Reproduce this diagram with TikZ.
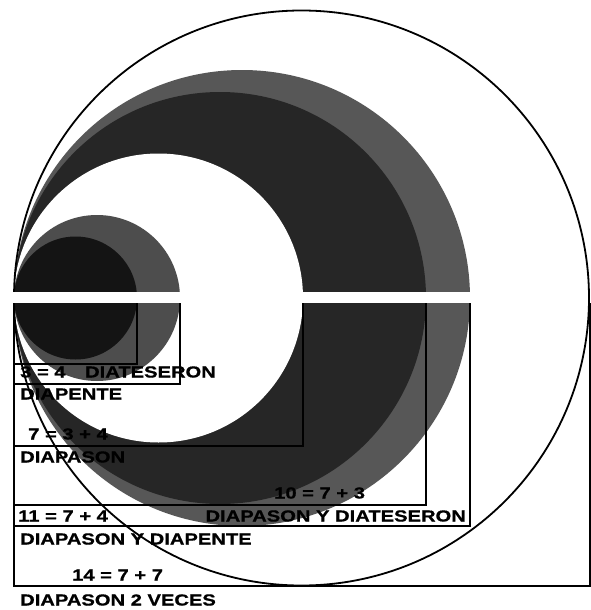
\documentclass[tikz,border=0pt]{standalone}
\usepackage{fontspec}
\newfontfamily\lab[FakeStretch=1.26,FakeBold=0.8]{Liberation Sans}
\definecolor{bgray}{HTML}{575757}
\definecolor{bdark}{HTML}{262626}
\definecolor{sgray}{HTML}{4D4D4D}
\definecolor{sdark}{HTML}{141414}
\begin{document}
\begin{tikzpicture}[x=1pt,y=-1pt,
  lbl/.style={font=\lab\bfseries\fontsize{16}{16}\selectfont, inner sep=0pt, text=black},
  box/.style={draw=black, line width=1.7pt}]
\useasboundingbox (0,0) rectangle (591,610);
\fill[white] (0,0) rectangle (591,610);
% circles, all tangent at the left point
\fill[white] (301.5,298) circle[radius=287.5pt];
\fill[bgray] (242,298) circle[radius=228pt];
\fill[bdark] (220,298) circle[radius=206pt];
\fill[white] (158.5,298) circle[radius=144.5pt];
\fill[sgray] (97,298) circle[radius=83pt];
\fill[sdark] (75.5,298) circle[radius=61.5pt];
\draw[line width=1.8pt] (301.5,298) circle[radius=287.5pt];
% white band
\fill[white] (10,292) rectangle (474,303);
% boxes (open at the top, under the band)
\draw[box] (14,303) -- (14,364) -- (137,364) -- (137,303);
\draw[box] (14,303) -- (14,384) -- (180,384) -- (180,303);
\draw[box] (14,303) -- (14,446) -- (303,446) -- (303,303);
\draw[box] (14,303) -- (14,505) -- (426,505) -- (426,303);
\draw[box] (14,303) -- (14,526) -- (470,526) -- (470,303);
\draw[box] (14,303) -- (14,586) -- (590,586) -- (590,303);
% labels
\node[lbl, anchor=west] (n3) at (20,372) {3 = 4};
\node[lbl, anchor=east] (dts) at (216,372) {DIATESERON};
\node[lbl, anchor=west] (dpt) at (20,394) {DIAPENTE};
\node[lbl, anchor=west] (n7) at (28,434) {7 = 3 + 4};
\node[lbl, anchor=west] (dps) at (20,457) {DIAPASON};
\node[lbl, anchor=west] (n10) at (274,493) {10 = 7 + 3};
\node[lbl, anchor=east] (dydt) at (466,516) {DIAPASON Y DIATESERON};
\node[lbl, anchor=west] (n11) at (18,516) {11 = 7 + 4};
\node[lbl, anchor=west] (dydp) at (20,539) {DIAPASON Y DIAPENTE};
\node[lbl, anchor=west] (n14) at (72,575) {14 = 7 + 7};
\node[lbl, anchor=west] (d2v) at (20,600) {DIAPASON 2 VECES};
\end{tikzpicture}
\end{document}
